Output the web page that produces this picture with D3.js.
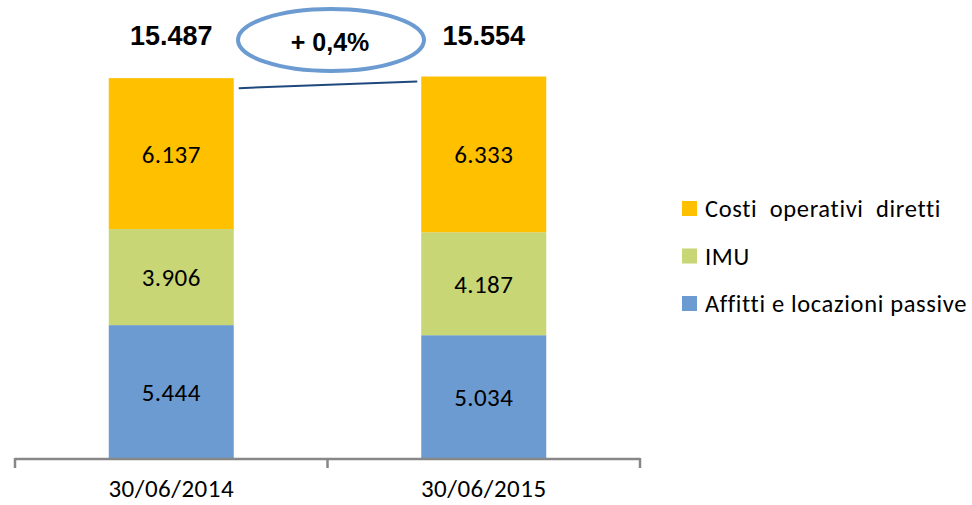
<!DOCTYPE html>
<html><head><meta charset="utf-8">
<script src="https://cdn.jsdelivr.net/npm/d3@7"></script>
<style>
html,body{margin:0;padding:0;background:#fff;}
svg{display:block;}
</style></head>
<body>
<svg id="chart" width="972" height="505"></svg>
<script>
const categories = ["30/06/2014", "30/06/2015"];
const seriesNames = ["Affitti e locazioni passive", "IMU", "Costi  operativi  diretti"];
const affitti = [5444, 5034];
const imu = [3906, 4187];
const costi = [6137, 6333];
const totals = [15487, 15554];
const changeLabel = "+ 0,4%";
const colors = ["#6C9BD2", "#C8D676", "#FFC000"];

const fmt = v => d3.format(",")(v).replace(/,/g, ".");
const svg = d3.select("#chart");
const labelFont = "Carlito, Lato, 'Liberation Sans', sans-serif";
const boldFont = "'Liberation Sans', Arial, sans-serif";

const x = d3.scaleBand().domain(categories).range([15, 640]).paddingInner(0.6).paddingOuter(0.3);
const y = d3.scaleLinear().domain([0, 15554]).range([459, 76.5]);

const rows = categories.map((c, i) => ({cat: c, a: affitti[i], b: imu[i], c2: costi[i]}));
const stack = d3.stack().keys(["a", "b", "c2"])(rows);

const g = svg.append("g");
stack.forEach((layer, li) => {
  g.selectAll(null).data(layer).enter().append("rect")
    .attr("x", d => x(d.data.cat))
    .attr("width", x.bandwidth())
    .attr("y", d => y(d[1]))
    .attr("height", d => y(d[0]) - y(d[1]))
    .attr("fill", colors[li]);
  g.selectAll(null).data(layer).enter().append("text")
    .attr("x", d => x(d.data.cat) + x.bandwidth() / 2)
    .attr("y", d => (y(d[0]) + y(d[1])) / 2 + 9)
    .attr("text-anchor", "middle")
    .attr("font-family", labelFont)
    .attr("font-size", 25)
    .attr("letter-spacing", 0.4)
    .attr("fill", "#000")
    .text(d => fmt(d[1] - d[0]));
});

// axis
const axisY = y(0);
const axisColor = "#878787";
svg.append("line").attr("x1", x.range()[0]).attr("x2", x.range()[1])
  .attr("y1", axisY).attr("y2", axisY).attr("stroke", axisColor).attr("stroke-width", 2.5);
const bounds = [x.range()[0], (x(categories[0]) + x.bandwidth() + x(categories[1])) / 2, x.range()[1]];
svg.selectAll(null).data(bounds).enter().append("line")
  .attr("x1", d => d).attr("x2", d => d)
  .attr("y1", axisY - 1).attr("y2", axisY + 9)
  .attr("stroke", axisColor).attr("stroke-width", 2.5);
svg.selectAll(null).data(categories).enter().append("text")
  .attr("x", d => x(d) + x.bandwidth() / 2)
  .attr("y", 497)
  .attr("text-anchor", "middle")
  .attr("font-family", labelFont)
  .attr("font-size", 25)
  .attr("letter-spacing", 0.5)
  .attr("fill", "#000")
  .text(d => d);

// totals
svg.selectAll(null).data(categories).enter().append("text")
  .attr("x", d => x(d) + x.bandwidth() / 2)
  .attr("y", 45)
  .attr("text-anchor", "middle")
  .attr("font-family", boldFont)
  .attr("font-weight", "bold")
  .attr("font-size", 27)
  .attr("fill", "#000")
  .text((d, i) => fmt(totals[i]));

// connector line
svg.append("line")
  .attr("x1", x(categories[0]) + x.bandwidth() + 5).attr("y1", y(totals[0]) + 10)
  .attr("x2", x(categories[1]) - 4).attr("y2", y(totals[1]) + 5)
  .attr("stroke", "#1F497D").attr("stroke-width", 2);

// ellipse
svg.append("ellipse").attr("cx", 331).attr("cy", 40).attr("rx", 93).attr("ry", 31)
  .attr("fill", "none").attr("stroke", "#6C9BD2").attr("stroke-width", 4);
svg.append("text").attr("x", 330).attr("y", 51).attr("text-anchor", "middle")
  .attr("font-family", boldFont).attr("font-weight", "bold").attr("font-size", 25)
  .attr("fill", "#000").text(changeLabel);

// legend
const legendItems = [2, 1, 0];
const lg = svg.append("g");
legendItems.forEach((si, k) => {
  const ty = 201 + k * 47.5;
  lg.append("rect").attr("x", 682).attr("y", ty).attr("width", 15).attr("height", 15).attr("fill", colors[si]);
  lg.append("text").attr("x", 705).attr("y", ty + 16)
    .attr("font-family", labelFont).attr("font-size", 24.5)
    .attr("letter-spacing", 0.65)
    .attr("fill", "#000").style("white-space", "pre")
    .text(seriesNames[si]);
});
</script>
</body></html>
